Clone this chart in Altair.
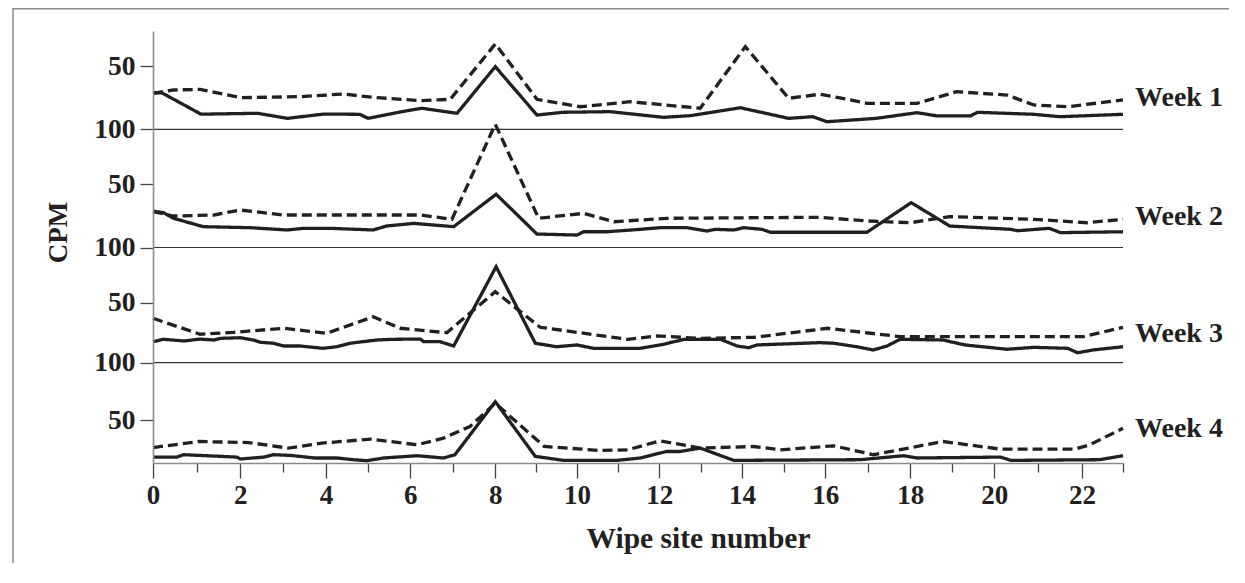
import altair as alt
import pandas as pd

# ---------------- data ----------------
WEEKS = ["Week 1", "Week 2", "Week 3", "Week 4"]
WEEK_OFFSET = [300, 200, 100, 0]          # vertical offset of each week's panel
LABEL_LEVEL = [18.5, 17.7, 17.5, 35.4]    # level of the "Week n" label inside its panel

W1_SOLID_X = [0, 0.2, 1.1, 2.4, 3.1, 3.95, 4.8, 5.0, 5.8, 6.27, 7.1, 8, 9.02, 9.65, 10.8, 12.1, 12.75,
              13.96, 15.12, 15.7, 16.04, 17.2, 18.16, 18.64, 19.43, 19.6, 20.9, 21.5, 23]
W1_SOLID_Y = [29, 29, 12, 12.7, 8.7, 12.1, 11.9, 8.7, 14, 16.7, 12.7, 49.7, 11.3, 13.5, 14, 9.5, 10.8,
              17.1, 8.7, 10, 6, 8.7, 13.2, 10.6, 10.6, 13.5, 11.9, 10, 11.9]
W1_DASH_X = [0, 0.47, 1.08, 2, 3.4, 4.41, 5.12, 6.24, 6.94, 8, 9.02, 10.08, 11.29, 12.99, 14.08, 15.12,
             15.86, 16.2, 16.98, 18.16, 19.1, 20.29, 20.9, 21.67, 23]
W1_DASH_Y = [28.6, 31.2, 31.7, 25.1, 25.9, 28, 25.4, 22.7, 23.8, 67.7, 23.8, 17.9, 21.9, 16.7, 65.6, 24.6,
             27.8, 25.9, 20.6, 20.6, 29.8, 27.2, 19.3, 17.9, 23.3]

W2_SOLID_X = [0, 0.24, 0.47, 1.15, 2.23, 3.09, 3.48, 4.18, 5.12, 5.43, 6.08, 7.02, 8.02, 9.02, 10, 10.16,
              10.73, 11.54, 12.02, 12.67, 13.15, 13.35, 13.8, 14.04, 14.48, 14.68, 16.98, 18.02, 18.94,
              20.38, 20.53, 21.25, 21.51, 23]
W2_SOLID_Y = [28.7, 27.4, 23, 16.4, 15.6, 13.8, 15.1, 15, 13.8, 16.9, 19, 16.4, 41.9, 10.6, 9.8, 12.4,
              12.4, 14.3, 15.6, 15.6, 13, 14.3, 13.8, 15.6, 14.3, 12, 12, 35.3, 16.9,
              14.3, 13.2, 15.1, 11.7, 12.4]
W2_DASH_X = [0, 0.47, 1.4, 2, 3, 6.24, 6.98, 8, 9.06, 10.16, 10.9, 12.19, 15.86, 16.98, 18, 18.94,
             20.9, 22.12, 23]
W2_DASH_Y = [28.2, 24.8, 25.6, 29.5, 25.6, 25.6, 22.2, 104, 23, 26.9, 20.3, 23, 23.8, 20.9, 19.5, 24.3,
             22.2, 19.5, 22.2]

W3_SOLID_X = [0, 0.24, 0.71, 1.08, 1.39, 1.54, 2, 2.31, 2.47, 2.78, 3.01, 3.4, 3.93, 4.26, 4.57, 5.2,
              5.6, 6.24, 6.31, 6.7, 7.02, 8.02, 8.98, 9.5, 10, 10.4, 11.54, 12.1, 12.6, 13.48, 13.88,
              14.16, 14.36, 15.86, 16.2, 16.74, 17.13, 17.45, 17.76, 18.78, 19.3, 20.29, 20.9, 21.67,
              21.9, 22.27, 23]
W3_SOLID_Y = [17.5, 19.5, 18.1, 19.7, 18.9, 20.3, 20.8, 18.9, 17, 16.2, 13.9, 13.9, 12, 13.3, 16.2, 18.9,
              19.5, 19.7, 17.5, 17.5, 13.9, 82.6, 16.2, 13.3, 14.8, 12, 12, 15.3, 19.5, 19.5, 13.9,
              12.5, 14.8, 16.7, 16.2, 13.3, 10.6, 13.9, 19.5, 18.9, 14.8, 11.2, 12.8, 12,
              8.3, 10.6, 13.3]
W3_DASH_X = [0, 1.08, 1.84, 3.01, 4.02, 5.12, 5.76, 6.86, 8, 9.1, 11.23, 11.95, 12.99, 14.3, 16.06,
             17.76, 22.04, 23]
W3_DASH_Y = [37, 23.7, 25.3, 28.7, 24.5, 38.3, 28.7, 25, 60, 29.5, 19.5, 22.3, 20.3, 21.2, 28.7,
             21.7, 21.7, 29.5]

W4_SOLID_X = [0, 0.55, 0.7, 1.92, 2, 2.55, 2.78, 3.2, 3.74, 4.26, 4.65, 4.97, 5.36, 6.16, 6.78, 7.05,
              8, 8.98, 9.67, 10.97, 11.54, 12.17, 12.5, 12.99, 13.8, 16.82, 17.84, 18.16, 20.14, 20.38,
              22.42, 23]
W4_SOLID_Y = [17.4, 17.4, 19.5, 17.4, 15.7, 17.4, 19.5, 18.8, 16.6, 16.6, 15.1, 14.2, 16.6, 18.6, 16.6, 19.5,
              66, 18, 14.5, 14.5, 16.6, 22.3, 22.3, 25.3, 14.5, 15.1, 18.6, 16.6, 17.4, 14.5,
              15.1, 18.6]
W4_DASH_X = [0, 1.05, 2.2, 3.12, 3.9, 5.06, 6.16, 6.78, 7.4, 8, 9.2, 10.57, 11.23, 12.02, 12.99, 14.28,
             14.92, 16.2, 17.13, 18.78, 20.14, 21.83, 22.19, 23]
W4_DASH_Y = [25.8, 31.1, 30.2, 25.3, 29.7, 33.2, 28.2, 34, 44.2, 64.6, 26.7, 23.2, 23.8, 31.7, 25.3, 26.7,
             23.8, 27.3, 19.5, 31.1, 24.4, 24.4, 28.2, 42.8]

X_TICKS = list(range(0, 24))
Y_TICKS = [50, 100, 150, 200, 250, 300, 350]
SEPARATORS = [100, 200, 300]

# ---------------- tables ----------------
series = [
    (0, "solid", W1_SOLID_X, W1_SOLID_Y), (0, "dashed", W1_DASH_X, W1_DASH_Y),
    (1, "solid", W2_SOLID_X, W2_SOLID_Y), (1, "dashed", W2_DASH_X, W2_DASH_Y),
    (2, "solid", W3_SOLID_X, W3_SOLID_Y), (2, "dashed", W3_DASH_X, W3_DASH_Y),
    (3, "solid", W4_SOLID_X, W4_SOLID_Y), (3, "dashed", W4_DASH_X, W4_DASH_Y),
]
rows = []
for wi, style, xs, vs in series:
    for xv, v in zip(xs, vs):
        rows.append({"x": xv, "y": v + WEEK_OFFSET[wi], "week": WEEKS[wi],
                     "style": style, "series": f"{WEEKS[wi]}-{style}"})
lines_df = pd.DataFrame(rows)
labels_df = pd.DataFrame({"x": [23] * 4,
                          "y": [l + o for l, o in zip(LABEL_LEVEL, WEEK_OFFSET)],
                          "week": WEEKS})
sep_df = pd.DataFrame({"y": SEPARATORS})

# ---------------- styling ----------------
FONT = "Liberation Serif"
INK = "#231f20"
AXIS_GRAY = "#8a8a8a"

X_DOMAIN = [0, 2, 4, 6, 8, 10, 12, 14, 16, 18, 20, 22, 23]
X_RANGE = [0, 87.3, 173, 257.3, 342.3, 424, 506.3, 589, 672.3, 757.3, 841.3, 929, 970]
Y_DOMAIN = [12.2, 50, 100, 150, 200, 250, 300, 350, 378]
Y_RANGE = [432, 389, 331.7, 271.7, 216.5, 153, 98.3, 35.3, 0]

x_scale = alt.Scale(domain=X_DOMAIN, range=X_RANGE, nice=False, zero=False)
y_scale = alt.Scale(domain=Y_DOMAIN, range=Y_RANGE, nice=False, zero=False)

x_axis = alt.Axis(
    values=X_TICKS, grid=False, labelOverlap=False, labelFlush=False, zindex=1,
    labelExpr="datum.value % 2 === 0 ? datum.label : ''",
    tickSize={"condition": {"test": "datum.value % 2 === 0", "value": 15}, "value": 9},
    tickColor="#444444", tickWidth=1.3, domainColor=AXIS_GRAY, domainWidth=1.6,
    labelFont=FONT, labelFontSize=27, labelFontWeight="bold", labelColor=INK, labelPadding=4,
    titleFont=FONT, titleFontSize=29.5, titleFontWeight="bold", titleColor=INK,
    titleX=545, titleY=84, titleBaseline="alphabetic", titleAlign="center",
)
y_axis = alt.Axis(
    values=Y_TICKS, grid=False, labelOverlap=False, labelFlush=False, zindex=1,
    labelExpr="datum.value % 100 === 0 ? '100' : '50'",
    tickSize=13, tickColor="#444444", tickWidth=1.3, domainColor=AXIS_GRAY, domainWidth=1.6,
    labelFont=FONT, labelFontSize=27.5, labelFontWeight="bold", labelColor=INK, labelPadding=5,
    titleFont=FONT, titleFontSize=27, titleFontWeight="bold", titleColor=INK,
    titleX=-95, titleY=201, titleAngle=270, titleAlign="center", titleBaseline="middle",
)

X_ENC = alt.X("x:Q", scale=x_scale, axis=x_axis, title="Wipe site number")
Y_ENC = alt.Y("y:Q", scale=y_scale, axis=y_axis, title="CPM")

# outer frame: only its top and left edges fall inside the picture.
# A grey sheet with a white sheet laid over it, offset by the frame's line width.
frame_back = alt.Chart(pd.DataFrame({"sheet": ["frame"]})).mark_rect(
    fill="#8a8a8a", strokeWidth=0
).encode(x=alt.value(-140.75), x2=alt.value(1076), y=alt.value(-22.95), y2=alt.value(532))
frame_face = alt.Chart(pd.DataFrame({"sheet": ["page"]})).mark_rect(
    fill="white", strokeWidth=0
).encode(x=alt.value(-139.25), x2=alt.value(1076), y=alt.value(-21.45), y2=alt.value(532))

rules = alt.Chart(sep_df).mark_rule(color="#333333", strokeWidth=1.2).encode(y=Y_ENC)

lines = alt.Chart(lines_df).mark_line(color=INK, strokeWidth=3.3, strokeJoin="miter").encode(
    x=X_ENC, y=Y_ENC, detail="series:N",
    strokeDash=alt.StrokeDash("style:N", scale=alt.Scale(domain=["solid", "dashed"],
                                                         range=[[1, 0], [10, 5]]), legend=None),
    order="x:Q",
)

labels = alt.Chart(labels_df).mark_text(
    align="left", baseline="alphabetic", dx=12, font=FONT, fontSize=28, fontWeight="bold", color=INK
).encode(x=X_ENC, y=Y_ENC, text="week:N")

chart = alt.layer(frame_back, frame_face, rules, lines, labels).properties(
    width=970, height=432,
    autosize=alt.AutoSizeParams(type="none"),
    padding={"left": 145, "top": 23, "right": 106, "bottom": 100},
    background="white",
).configure_view(stroke=None)

chart.save("out.html", embed_options={"renderer": "svg", "actions": False})
